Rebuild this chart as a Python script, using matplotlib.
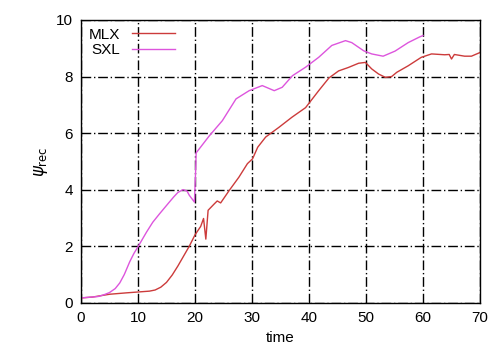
import numpy as np
import matplotlib.pyplot as plt

plt.rcParams['font.family'] = ['Liberation Sans', 'DejaVu Sans']

# MLX curve
t_mlx = [0, 2, 5, 8, 10, 12, 13, 14, 15, 16, 17, 18, 19, 20, 21, 21.5, 21.9, 22.3, 23.4,
         23.9, 24.5, 26, 27.7, 29.2, 30.1, 31, 32.4, 34.7, 37, 39.4, 41.7, 43.5, 45.2,
         46.9, 48.7, 49.9, 51, 52.2, 53.4, 54.5, 55.4, 57.4, 59.7, 61.5, 63.8, 64.6, 65,
         65.5, 67.3, 68.5, 70]
v_mlx = [0.17, 0.2, 0.3, 0.35, 0.38, 0.41, 0.45, 0.55, 0.72, 0.98, 1.3, 1.65, 2.0, 2.4,
         2.7, 2.98, 2.25, 3.27, 3.5, 3.6, 3.53, 3.97, 4.44, 4.92, 5.09, 5.5, 5.86, 6.2,
         6.56, 6.9, 7.5, 7.95, 8.2, 8.32, 8.47, 8.5, 8.27, 8.09, 7.97, 8.0, 8.15, 8.38,
         8.68, 8.8, 8.77, 8.78, 8.62, 8.78, 8.72, 8.72, 8.85]

# SXL curve
t_sxl = [0, 3, 4, 5, 6, 6.8, 7.6, 8.55, 9.3, 10, 11.5, 12.6, 13.8, 15.5, 16.3, 17, 17.9,
         18.6, 19, 19.9, 20.1, 20.2, 22.5, 24.8, 27.2, 29.5, 31.8, 33.9, 35.3, 37.1,
         39.4, 41.7, 44, 46.4, 47.5, 49.6, 51, 53, 55.1, 57.4, 59.4, 60]
v_sxl = [0.17, 0.22, 0.28, 0.36, 0.5, 0.7, 1.0, 1.45, 1.75, 1.98, 2.5, 2.85, 3.15, 3.56,
         3.75, 3.9, 4.0, 3.95, 3.8, 3.56, 4.6, 5.3, 5.9, 6.44, 7.21, 7.5, 7.68, 7.5,
         7.62, 8.03, 8.33, 8.68, 9.1, 9.27, 9.2, 8.91, 8.8, 8.72, 8.9, 9.2, 9.4, 9.45]

fig = plt.figure(figsize=(5, 3.57), dpi=100)
ax = fig.add_axes([0.162, 0.152, 0.798, 0.792])

ax.plot(t_mlx, v_mlx, color='#cc3b3b', lw=1.0, label='MLX')
ax.plot(t_sxl, v_sxl, color='#dd55dd', lw=1.0, label='SXL')

ax.set_xlim(0, 70)
ax.set_ylim(0, 10)
ax.set_xticks(np.arange(0, 71, 10))
ax.set_yticks(np.arange(0, 11, 2))
ax.grid(True, color='black', linestyle=(0, (7, 2, 1, 2)), lw=1.0)
ax.tick_params(length=0, labelsize=11, pad=6)
ax.set_xlabel('time', fontsize=11)
ax.set_ylabel(r'$\psi_{\rm rec}$', fontsize=12)
for s in ax.spines.values():
    s.set_linewidth(1.0)

leg = ax.legend(loc='upper left', frameon=False, markerfirst=False, fontsize=11,
                handlelength=2.8, borderaxespad=0.1, labelspacing=0.1,
                handletextpad=0.8)

fig.savefig('out.png', dpi=100)
